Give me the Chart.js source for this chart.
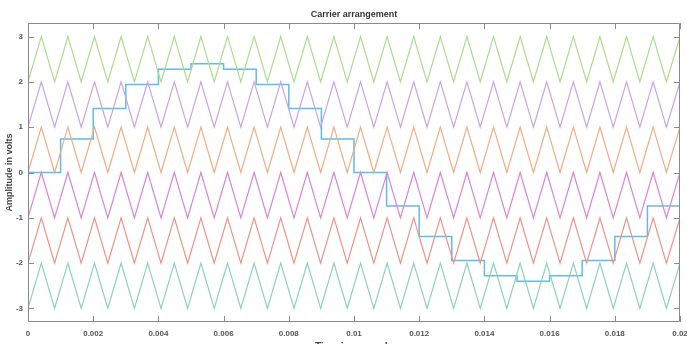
<!DOCTYPE html>
<html lang="en">
<head>
<meta charset="UTF-8">
<title>Carrier arrangement</title>
<script src="https://cdn.jsdelivr.net/npm/chart.js"></script>
<style>
  html, body { margin: 0; padding: 0; background: #fff; overflow: hidden; }
  #wrap { width: 687px; height: 360px; }
</style>
</head>
<body>
<div id="wrap"><canvas id="carrierChart"></canvas></div>

<script>
// axis ticks
const xTickValues = [0, 0.002, 0.004, 0.006, 0.008, 0.01, 0.012, 0.014, 0.016, 0.018, 0.02];
const xTickLabels = ["0", "0.002", "0.004", "0.006", "0.008", "0.01", "0.012", "0.014", "0.016", "0.018", "0.02"];
const yTickValues = [-3, -2, -1, 0, 1, 2, 3];
const yTickLabels = ["-3", "-2", "-1", "0", "1", "2", "3"];

// triangular carrier: corner times (s) and level within its band (0 = valley, 1 = peak)
const carrierTimes = [
  0, 0.000408, 0.000816, 0.001224, 0.001632, 0.00204, 0.002448, 0.002856, 0.003264, 0.003672,
  0.00408, 0.004488, 0.004896, 0.005304, 0.005712, 0.00612, 0.006528, 0.006936, 0.007344, 0.007752,
  0.00816, 0.008568, 0.008976, 0.009384, 0.009792, 0.0102, 0.010608, 0.011016, 0.011424, 0.011832,
  0.01224, 0.012648, 0.013056, 0.013464, 0.013872, 0.01428, 0.014688, 0.015096, 0.015504, 0.015912,
  0.01632, 0.016728, 0.017136, 0.017544, 0.017952, 0.01836, 0.018768, 0.019176, 0.019584, 0.02
];
const carrierShape = [
  0, 1, 0, 1, 0, 1, 0, 1, 0, 1,
  0, 1, 0, 1, 0, 1, 0, 1, 0, 1,
  0, 1, 0, 1, 0, 1, 0, 1, 0, 1,
  0, 1, 0, 1, 0, 1, 0, 1, 0, 1,
  0, 1, 0, 1, 0, 1, 0, 1, 0, 1
];
const carrierOffsets = [2, 1, 0, -1, -2, -3];
const carrierColors = ["#aedb8c", "#c9a3e6", "#f1ae86", "#d985d8", "#ec9385", "#8ad3b8"];

// sampled reference (held steps)
const stepTimes = [0, 0.001, 0.002, 0.003, 0.004, 0.005, 0.006, 0.007, 0.008, 0.009, 0.01,
  0.011, 0.012, 0.013, 0.014, 0.015, 0.016, 0.017, 0.018, 0.019, 0.02];
const stepValues = [0, 0.74, 1.41, 1.94, 2.28, 2.40, 2.28, 1.94, 1.41, 0.74, 0,
  -0.74, -1.41, -1.94, -2.28, -2.40, -2.28, -1.94, -1.41, -0.74, -0.74];

const datasets = carrierOffsets.map((off, k) => ({
  label: "Carrier " + (k + 1),
  data: carrierTimes.map((t, i) => ({ x: t, y: off + carrierShape[i] })),
  borderColor: carrierColors[k],
  borderWidth: 1.2,
  pointRadius: 0,
  tension: 0
}));
datasets.push({
  label: "Reference",
  data: stepTimes.map((t, i) => ({ x: t, y: stepValues[i] })),
  borderColor: "#62bce4",
  borderWidth: 1.5,
  pointRadius: 0,
  stepped: "before"
});

// box round the plot with inward tick marks
const boxTicks = {
  id: "boxTicks",
  afterDatasetsDraw(chart) {
    const { ctx, chartArea: a, scales: { x, y } } = chart;
    ctx.save();
    ctx.strokeStyle = "#8a8a8a";
    ctx.lineWidth = 1;
    ctx.beginPath();
    ctx.rect(a.left + 0.5, a.top + 0.5, a.right - a.left - 1, a.bottom - a.top - 1);
    xTickValues.forEach(v => {
      const px = Math.round(x.getPixelForValue(v)) + 0.5;
      ctx.moveTo(px, a.bottom); ctx.lineTo(px, a.bottom - 6);
      ctx.moveTo(px, a.top); ctx.lineTo(px, a.top + 6);
    });
    yTickValues.forEach(v => {
      const py = Math.round(y.getPixelForValue(v)) + 0.5;
      ctx.moveTo(a.left, py); ctx.lineTo(a.left + 6, py);
      ctx.moveTo(a.right, py); ctx.lineTo(a.right - 6, py);
    });
    ctx.stroke();
    ctx.restore();
  }
};

// title centred over the plot area
const plotTitle = {
  id: "plotTitle",
  afterDraw(chart) {
    const { ctx, chartArea: a } = chart;
    ctx.save();
    ctx.font = "bold 9px 'Liberation Sans', Arial, sans-serif";
    ctx.fillStyle = "#333";
    ctx.textAlign = "center";
    ctx.textBaseline = "middle";
    ctx.fillText("Carrier arrangement", (a.left + a.right) / 2, 15);
    ctx.restore();
  }
};

new Chart(document.getElementById("carrierChart"), {
  type: "line",
  data: { datasets: datasets },
  options: {
    responsive: true,
    maintainAspectRatio: false,
    animation: false,
    layout: { padding: { left: 0, right: 7, top: 23, bottom: 0 } },
    plugins: { legend: { display: false }, tooltip: { enabled: false } },
    scales: {
      x: {
        type: "linear",
        min: 0,
        max: 0.02,
        afterBuildTicks: s => { s.ticks = xTickValues.map(v => ({ value: v })); },
        afterFit: s => { s.height = 38; s.paddingLeft = 0; s.paddingRight = 0; },
        ticks: {
          autoSkip: false,
          maxRotation: 0,
          padding: 7,
          color: "#555",
          font: { family: "'Liberation Sans', Arial, sans-serif", size: 8, weight: "bold" },
          callback: (v, i) => xTickLabels[i]
        },
        grid: { drawOnChartArea: false, drawTicks: false },
        border: { display: false },
        title: {
          display: true,
          text: "Time in seconds",
          color: "#444",
          font: { family: "'Liberation Sans', Arial, sans-serif", size: 10, weight: "bold" },
          padding: { top: 0, bottom: 7 }
        }
      },
      y: {
        type: "linear",
        min: -3.3,
        max: 3.3,
        afterBuildTicks: s => { s.ticks = yTickValues.map(v => ({ value: v })); },
        afterFit: s => { s.width = 28; s.paddingTop = 0; s.paddingBottom = 0; },
        ticks: {
          padding: 5,
          color: "#555",
          font: { family: "'Liberation Sans', Arial, sans-serif", size: 8, weight: "bold" },
          callback: (v, i) => yTickLabels[i]
        },
        grid: { drawOnChartArea: false, drawTicks: false },
        border: { display: false },
        title: {
          display: true,
          text: "Amplitude in volts",
          color: "#444",
          font: { family: "'Liberation Sans', Arial, sans-serif", size: 9, weight: "bold" },
          padding: { top: 4, bottom: 0 }
        }
      }
    }
  },
  plugins: [boxTicks, plotTitle]
});
</script>
</body>
</html>
